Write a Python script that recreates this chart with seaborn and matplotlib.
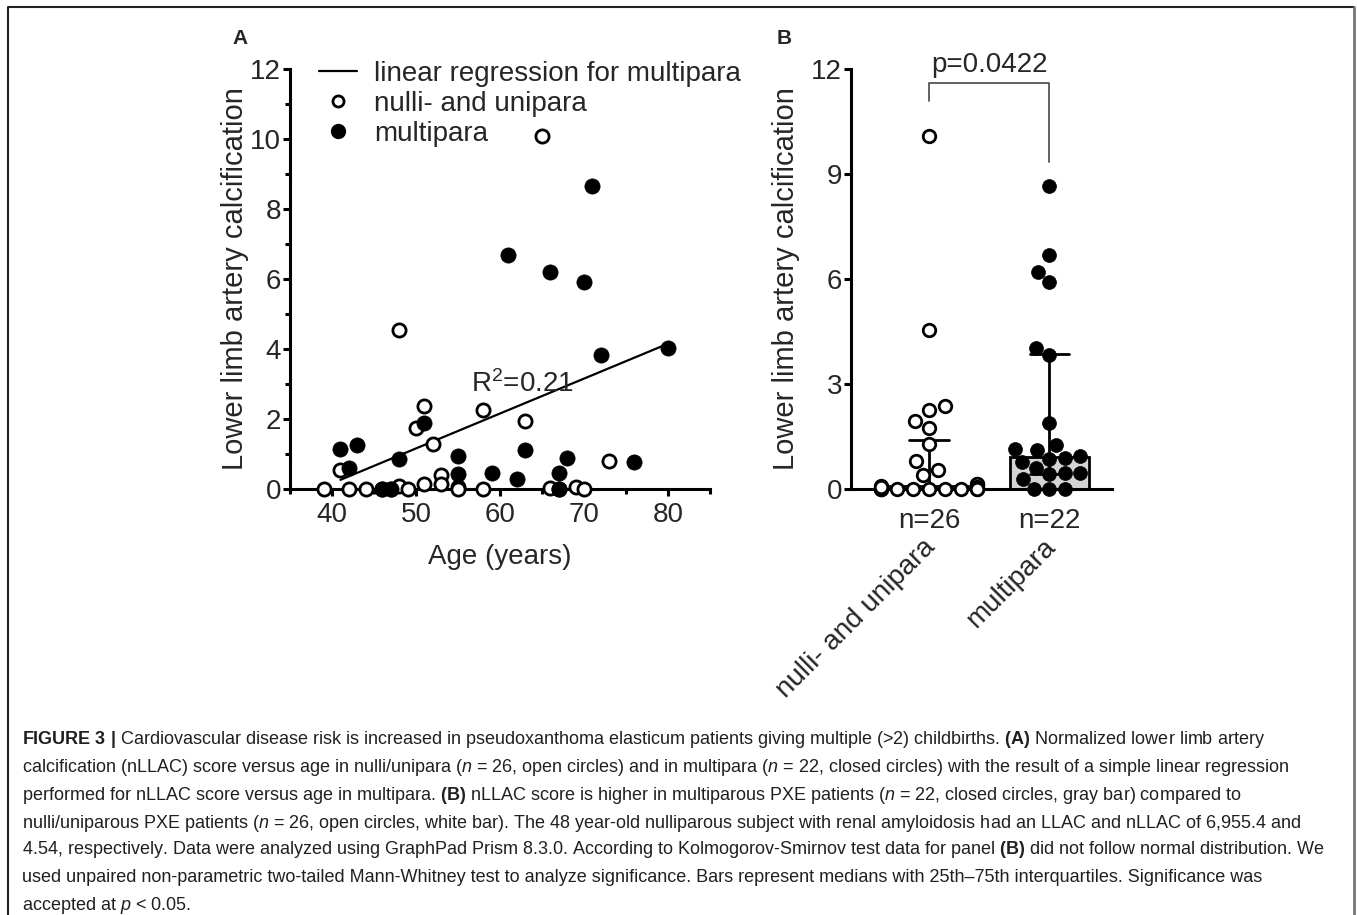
import numpy as np
import pandas as pd
import seaborn as sns
import matplotlib.pyplot as plt
from matplotlib.lines import Line2D
import matplotlib.transforms as mtransforms
import warnings

warnings.filterwarnings("ignore")

# nulli- and unipara (open circles)
uni_age = [39, 41, 42, 44, 46, 47, 48, 48, 49, 50, 51, 51, 52, 53, 53, 55, 55, 58, 58, 63, 65, 66, 67, 69, 70, 73]
uni_llac = [0, 0.55, 0, 0, 0, 0, 4.54, 0.10, 0, 1.75, 2.37, 0.13, 1.28, 0.40, 0.13, 0.06, 0, 2.25, 0, 1.95, 10.1, 0.04, 0, 0.06, 0, 0.80]
# multipara (closed circles)
multi_age = [41, 42, 43, 46, 47, 48, 51, 55, 55, 59, 61, 62, 63, 66, 67, 67, 68, 70, 71, 72, 76, 80]
multi_llac = [1.15, 0.60, 1.25, 0, 0, 0.87, 1.90, 0.95, 0.42, 0.47, 6.70, 0.28, 1.12, 6.20, 0.45, 0, 0.90, 5.92, 8.65, 3.82, 0.78, 4.02]

groups = ["nulli- and unipara", "multipara"]
group_n = ["n=26", "n=22"]
legend_labels = ["linear regression for multipara", "nulli- and unipara", "multipara"]
r2_text = "R$^2$=0.21"
p_text = "p=0.0422"
ylab = "Lower limb artery calcification"

caption = [
    r"$\bf{FIGURE\ 3\ |}$ Cardiovascular disease risk is increased in pseudoxanthoma elasticum patients giving multiple (>2) childbirths. $\bf{(A)}$ Normalized lower limb artery",
    r"calcification (nLLAC) score versus age in nulli/unipara ($\it{n}$ = 26, open circles) and in multipara ($\it{n}$ = 22, closed circles) with the result of a simple linear regression",
    r"performed for nLLAC score versus age in multipara. $\bf{(B)}$ nLLAC score is higher in multiparous PXE patients ($\it{n}$ = 22, closed circles, gray bar) compared to",
    r"nulli/uniparous PXE patients ($\it{n}$ = 26, open circles, white bar). The 48 year-old nulliparous subject with renal amyloidosis had an LLAC and nLLAC of 6,955.4 and",
    r"4.54, respectively. Data were analyzed using GraphPad Prism 8.3.0. According to Kolmogorov-Smirnov test data for panel $\bf{(B)}$ did not follow normal distribution. We",
    r"used unpaired non-parametric two-tailed Mann-Whitney test to analyze significance. Bars represent medians with 25th–75th interquartiles. Significance was",
    r"accepted at $\it{p}$ < 0.05.",
]

sns.set_theme(style="ticks")
plt.rcParams["font.family"] = ["Liberation Sans", "DejaVu Sans"]
plt.rcParams["mathtext.fontset"] = "custom"
plt.rcParams["mathtext.rm"] = "Liberation Sans"
plt.rcParams["mathtext.it"] = "Liberation Sans:italic"
plt.rcParams["mathtext.bf"] = "Liberation Sans:bold"

df = pd.DataFrame({
    "age": uni_age + multi_age,
    "llac": uni_llac + multi_llac,
    "group": [groups[0]] * len(uni_age) + [groups[1]] * len(multi_age),
})

W, H = 1357, 915
fig = plt.figure(figsize=(W / 100, H / 100), dpi=100)
axA = fig.add_axes([290 / W, 1 - 489 / H, 420 / W, 420 / H])
axB = fig.add_axes([851 / W, 1 - 489 / H, 261 / W, 420 / H])


def prism_axes(ax):
    ax.spines[["top", "right"]].set_visible(False)
    for s in ["left", "bottom"]:
        ax.spines[s].set_linewidth(2.2)
        ax.spines[s].set_color("black")
    ax.tick_params(which="major", length=5, width=2.2, labelsize=20, color="black", pad=1.5)
    ax.tick_params(which="minor", length=3.5, width=2.2, color="black")


# ---- panel A
sns.scatterplot(x=uni_age, y=uni_llac, ax=axA, color="white", edgecolor="black",
                linewidth=2.0, s=90, clip_on=False, zorder=3)
sns.scatterplot(x=multi_age, y=multi_llac, ax=axA, color="black", edgecolor="black",
                linewidth=0.5, s=120, clip_on=False, zorder=4)
sns.regplot(x=multi_age, y=multi_llac, ax=axA, scatter=False, ci=None, truncate=True,
            line_kws=dict(color="black", lw=1.6))
axA.set_xlim(35, 85)
axA.set_ylim(0, 12)
axA.set_xticks([40, 50, 60, 70, 80])
axA.set_xticks(np.arange(35, 86, 5), minor=True)
axA.set_yticks(np.arange(0, 13, 2))
axA.set_yticks(np.arange(1, 12, 2), minor=True)
prism_axes(axA)
axA.tick_params(axis="x", pad=4)
axA.set_xlabel("Age (years)", fontsize=20, labelpad=12)
axA.set_ylabel(ylab, fontsize=21, labelpad=1)
axA.text(56.6, 3.0, r2_text, fontsize=20, va="center", ha="left")

handles = [
    Line2D([], [], color="black", lw=1.6),
    Line2D([], [], ls="", marker="o", ms=8, mfc="white", mec="black", mew=2),
    Line2D([], [], ls="", marker="o", ms=10, mfc="black", mec="black"),
]
axA.legend(handles, legend_labels, loc="upper left", bbox_to_anchor=(0.068, 1.02),
           frameon=False, fontsize=20, handlelength=1.4, handletextpad=0.6,
           labelspacing=0.15, borderpad=0, borderaxespad=0)

# ---- panel B
iqr = lambda v: (np.percentile(v, 25, method="weibull"), np.percentile(v, 75, method="weibull"))
sns.barplot(data=df, x="group", y="llac", order=groups, hue="group", hue_order=groups,
            palette=["white", "#d4d4d4"], legend=False, estimator="median", errorbar=iqr,
            capsize=0.33, width=0.65, edgecolor="black", linewidth=2,
            err_kws={"color": "black", "linewidth": 2}, ax=axB)
sns.swarmplot(data=df[df.group == groups[0]], x="group", y="llac", order=groups, ax=axB,
              color="white", edgecolor="black", linewidth=2, size=9, zorder=3, clip_on=False)
sns.swarmplot(data=df[df.group == groups[1]], x="group", y="llac", order=groups, ax=axB,
              color="black", edgecolor="black", linewidth=0.5, size=10, zorder=4, clip_on=False)
axB.set_xlim(-0.65, 1.52)
axB.set_ylim(0, 12)
axB.set_yticks(np.arange(0, 13, 3))
prism_axes(axB)
axB.tick_params(axis="x", length=0, pad=14)
axB.set_xticks([0, 1])
axB.set_xticklabels(group_n)
axB.set_xlabel("")
axB.set_ylabel(ylab, fontsize=21, labelpad=8)
trans = mtransforms.blended_transform_factory(axB.transData, axB.transAxes)
for i, g in enumerate(groups):
    axB.text(i + 0.02, -0.13, g, transform=trans, rotation=45, rotation_mode="anchor",
             ha="right", va="center", fontsize=20)

top = max(df.llac) + 1.5
lft = max(uni_llac) + 1.0
rgt = max(multi_llac) + 0.7
axB.plot([0, 0, 1, 1], [lft, top, top, rgt], color="#555555", lw=1.3, clip_on=False)
axB.text(0.5, top + 0.15, p_text, ha="center", va="bottom", fontsize=20)

# panel letters
fig.text(240 / W, 1 - 38 / H, "A", fontsize=15, weight="bold", ha="center", va="center")
fig.text(784 / W, 1 - 38 / H, "B", fontsize=15, weight="bold", ha="center", va="center")

# caption
line_y = [740, 767, 795, 823, 850, 877, 905]
for y, t in zip(line_y, caption):
    fig.text(22 / W, 1 - y / H, t, fontsize=13.0, color="#231f20", ha="left", va="center")

# frame
fig.add_artist(Line2D([8 / W, 8 / W, 1354 / W], [0, 1 - 7 / H, 1 - 7 / H],
                      transform=fig.transFigure, color="#222222", lw=1.5))
fig.add_artist(Line2D([1354 / W, 1354 / W], [1 - 7 / H, 0],
                      transform=fig.transFigure, color="#777777", lw=2))

fig.savefig("out.png", dpi=100)
